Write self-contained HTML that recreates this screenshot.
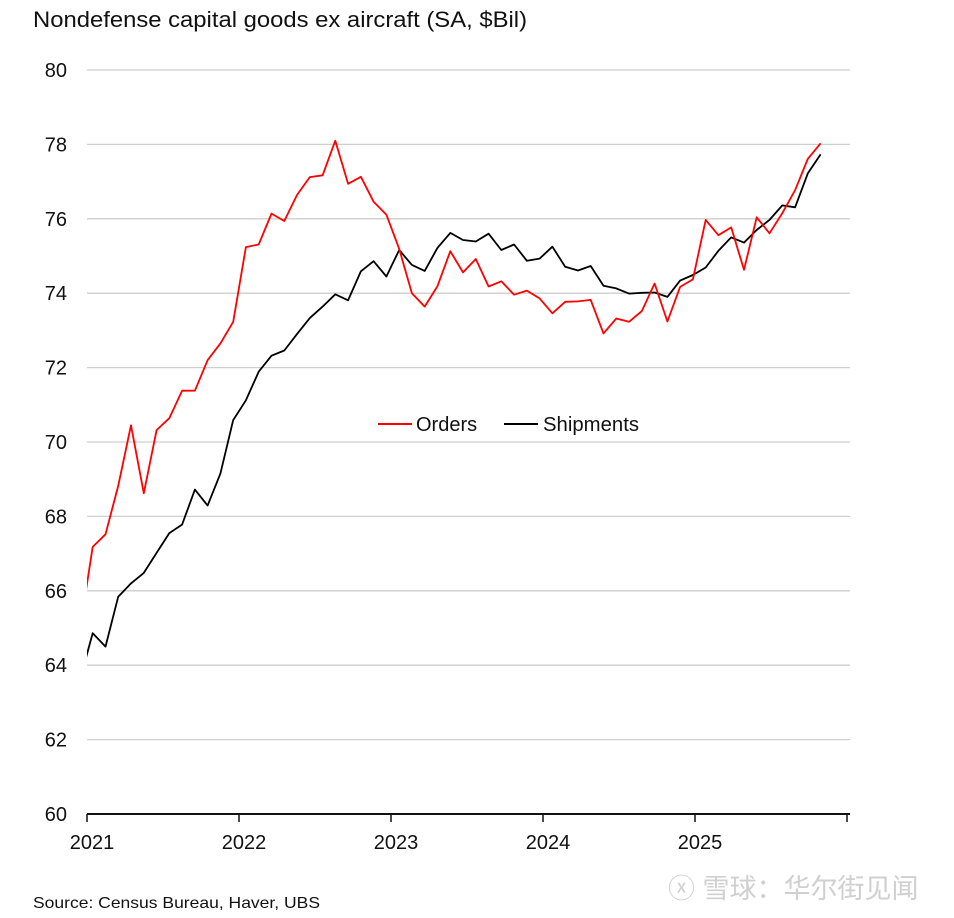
<!DOCTYPE html>
<html><head><meta charset="utf-8"><style>
body{margin:0;background:#fff;width:954px;height:918px;overflow:hidden;font-family:"Liberation Sans","Noto Sans CJK SC",sans-serif;}
svg{display:block}
</style></head><body>
<svg width="954" height="918" xmlns="http://www.w3.org/2000/svg">
<defs><clipPath id="pc"><rect x="87" y="60" width="763" height="760"/></clipPath></defs>
<text x="33" y="27" font-size="22" fill="#111" textLength="494" lengthAdjust="spacingAndGlyphs">Nondefense capital goods ex aircraft (SA, $Bil)</text>
<g id="grid"></g>
<g id="yticks"></g>
<g id="xaxis"></g>
<g id="series" clip-path="url(#pc)"></g>
<g>
<line x1="378" y1="424" x2="412" y2="424" stroke="#f00" stroke-width="2"/>
<text x="416" y="431" font-size="20" fill="#111">Orders</text>
<line x1="504" y1="424" x2="538" y2="424" stroke="#000" stroke-width="2"/>
<text x="543" y="431" font-size="20" fill="#111" textLength="96" lengthAdjust="spacingAndGlyphs">Shipments</text>
</g>
<text x="33" y="908" font-size="16" fill="#111" textLength="287" lengthAdjust="spacingAndGlyphs">Source: Census Bureau, Haver, UBS</text>
<text x="668" y="898" font-size="27" fill="#d0d0d0">ⓧ 雪球：华尔街见闻</text>
</svg>
<script>
const yTicks=[60,62,64,66,68,70,72,74,76,78,80];
const years=["2021","2022","2023","2024","2025"];
// month index -1 = Dec 2020 (clipped), 0 = Jan 2021 ... 57 = Oct 2025
const startIndex=-1;
const orders=[64.95,67.18,67.52,68.82,70.45,68.62,70.32,70.64,71.38,71.38,72.2,72.65,73.23,75.24,75.31,76.14,75.94,76.64,77.12,77.17,78.1,76.94,77.13,76.46,76.11,
75.19,74.0,73.64,74.19,75.13,74.56,74.92,74.18,74.32,73.96,74.07,73.86,73.46,73.77,73.78,73.82,72.92,73.32,73.23,73.52,74.26,73.24,74.17,74.37,75.97,75.56,75.77,74.63,76.04,75.61,76.15,76.77,77.61,78.03];
const shipments=[63.6,64.86,64.5,65.84,66.2,66.48,67.02,67.55,67.78,68.72,68.29,69.15,70.59,71.12,71.89,72.32,72.46,72.9,73.33,73.64,73.97,73.81,74.59,74.86,74.45,
75.16,74.76,74.6,75.22,75.62,75.43,75.39,75.6,75.16,75.31,74.87,74.93,75.25,74.71,74.61,74.73,74.2,74.13,73.99,74.01,74.02,73.9,74.34,74.49,74.69,75.14,75.5,75.36,75.7,75.97,76.36,76.31,77.22,77.73];
const NS='http://www.w3.org/2000/svg';
function yS(v){return 814-(v-60)*37.2;}
function xS(k){return 92.7+12.77*k;}
function yearX(i){return 87+152*i;}
function mk(t,a,p){const e=document.createElementNS(NS,t);for(const k in a)e.setAttribute(k,a[k]);p.appendChild(e);return e;}
const grid=document.getElementById('grid'),yt=document.getElementById('yticks'),xa=document.getElementById('xaxis'),se=document.getElementById('series');
yTicks.forEach(v=>{
 if(v>60){const l=mk('line',{x1:87,x2:850,y1:yS(v),y2:yS(v),stroke:'#cfcfcf','stroke-width':1.3},grid);
 
 }
 const t=mk('text',{x:67,y:yS(v)+7,'text-anchor':'end','font-size':20,fill:'#111'},yt);
 t.textContent=v;
 
 
});
const ax=mk('line',{x1:87,x2:850,y1:814,y2:814,stroke:'#111','stroke-width':2},xa);


for(let i=0;i<=years.length;i++){
 const tk=mk('line',{x1:yearX(i),x2:yearX(i),y1:814,y2:822,stroke:'#111','stroke-width':1.5},xa);
 
 
 if(i<years.length){const t=mk('text',{x:yearX(i)+5,y:849,'text-anchor':'middle','font-size':20,fill:'#111'},xa);
 t.textContent=years[i];
 
 }
}
function line(arr,col,name){
 const d=arr.map((v,i)=>(i?'L':'M')+xS(i+startIndex).toFixed(1)+','+yS(v).toFixed(1)).join('');
 const p=mk('path',{d:d,fill:'none',stroke:col,'stroke-width':1.8,'stroke-linejoin':'round'},se);
 
 
}
line(shipments,'#000','shipments-line');
line(orders,'#f00','orders-line');
</script>
</body></html>
